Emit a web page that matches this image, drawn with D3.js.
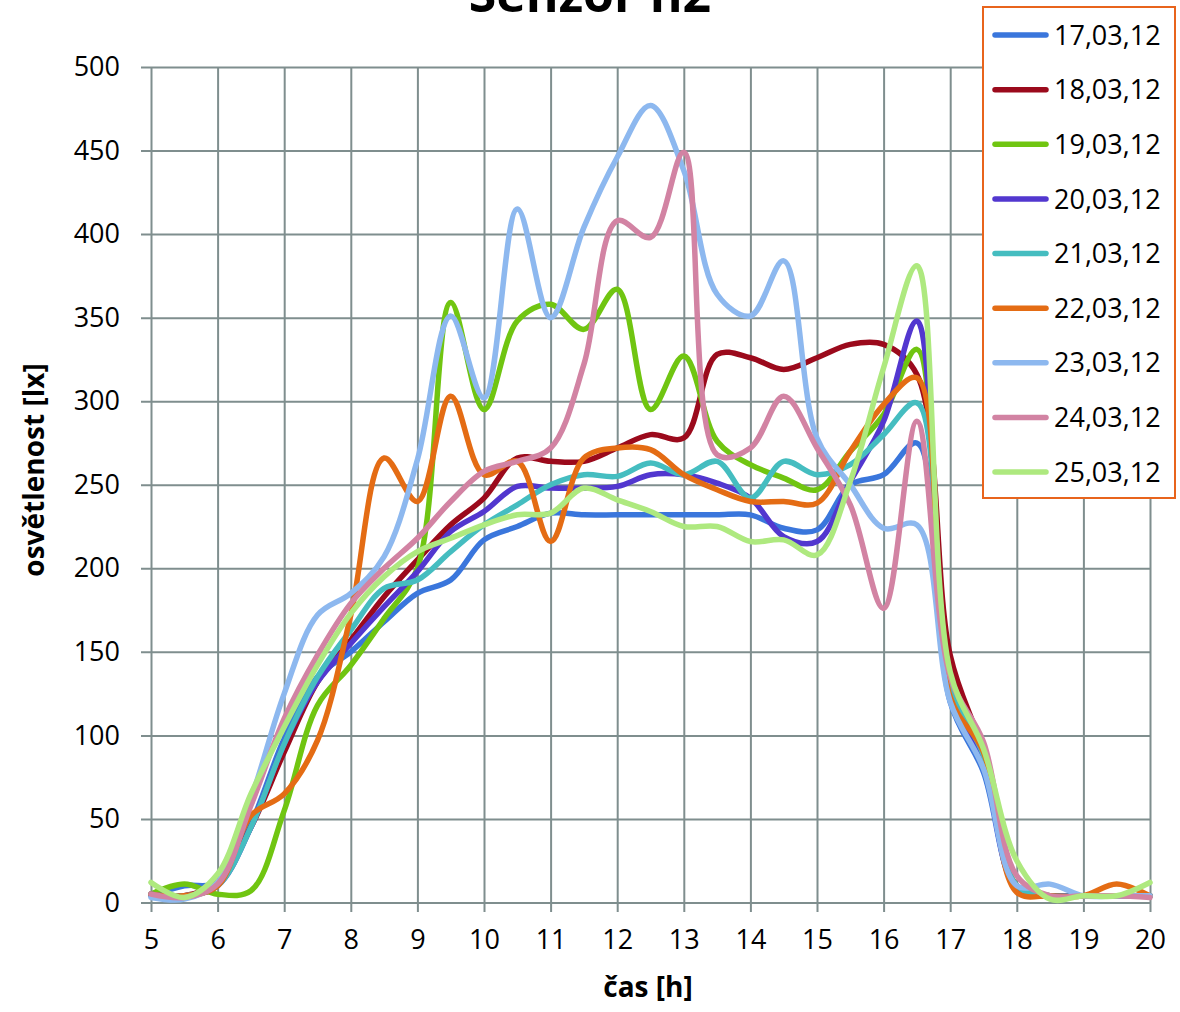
<!DOCTYPE html>
<html>
<head>
<meta charset="utf-8">
<script src="https://cdn.jsdelivr.net/npm/d3@7"></script>
<style>
  html, body { margin: 0; padding: 0; background: #ffffff; }
  svg { display: block; }
  text { font-family: "Open Sans", "DejaVu Sans", sans-serif; fill: #000; }
</style>
</head>
<body>
<svg id="chart" width="1180" height="1012"></svg>
<script>
// ---------- DATA ----------
const hours = [5,5.5,6,6.5,7,7.5,8,8.5,9,9.5,10,10.5,11,11.5,12,12.5,13,13.5,14,14.5,15,15.5,16,16.5,17,17.5,18,18.5,19,19.5,20];

const seriesNames = ["17,03,12","18,03,12","19,03,12","20,03,12","21,03,12","22,03,12","23,03,12","24,03,12","25,03,12"];
const seriesColors = ["#3a76dc","#9b0a1c","#70c511","#5237cf","#45bdc0","#e46c14","#8db8ef","#d283a3","#aee97f"];

const s17 = [4,10,12,47,98,135,150,168,185,193,217,225,233,232,232,232,232,232,232,224,223,250,256,275,120,78,8,4,4,4,4];
const s18 = [5,4,12,45,90,132,157,183,205,226,242,266,264,264,272,280,278,328,326,319,326,334,334,316,148,90,10,4,4,4,4];
const s19 = [5,11,5,7,55,118,142,170,200,359,295,348,358,343,367,295,327,276,262,254,247,270,292,331,130,85,10,4,4,4,4];
const s20 = [5,4,10,45,95,132,155,177,198,222,234,249,248,248,249,256,256,251,242,219,216,252,288,348,125,82,8,4,4,4,4];
const s21 = [5,4,10,45,95,135,163,188,193,210,226,238,250,256,255,263,256,264,242,264,256,262,280,299,130,88,10,4,4,4,4];
const s22 = [5,4,10,52,65,97,172,266,240,303,256,264,216,266,272,271,256,247,240,240,239,270,298,314,123,90,6,4,4,11,4];
const s23 = [3,2,12,62,125,172,185,207,265,351,302,415,350,404,446,477,438,364,351,384,278,250,224,226,120,80,10,11,4,4,4];
const s24 = [5,3,11,58,110,148,179,200,218,240,258,264,272,322,408,398,449,268,272,303,272,238,176,288,135,96,16,4,4,4,3];
const s25 = [12,3,17,65,105,142,173,195,210,218,226,232,233,248,241,234,225,225,216,217,208,252,320,381,138,92,25,2,4,4,12];

const seriesValues = [s17,s18,s19,s20,s21,s22,s23,s24,s25];

const xTicks = [5,6,7,8,9,10,11,12,13,14,15,16,17,18,19,20];
const yTicks = [0,50,100,150,200,250,300,350,400,450,500];

const titleText = "Senzor h2";
const xTitle = "čas [h]";
const yTitle = "osvětlenost [lx]";

// ---------- LAYOUT ----------
const svg = d3.select("#chart");
const plotL = 151, plotR = 1150, plotT = 67, plotB = 902.5;
const gridColor = "#7f8e8e";

const x = d3.scaleLinear().domain([5, 20]).range([plotL, plotR]);
const y = d3.scaleLinear().domain([0, 500]).range([plotB, plotT]);

// Y axis + horizontal gridlines
const yAxisX = 141;
const yAxis = d3.axisLeft(y).tickValues(yTicks).tickSize(-(plotR - yAxisX)).tickPadding(21).tickFormat(d3.format("d"));
const gy = svg.append("g").attr("transform", `translate(${yAxisX},0)`).call(yAxis);
gy.select(".domain").remove();
gy.selectAll(".tick line").attr("stroke", gridColor).attr("stroke-width", 2);
gy.selectAll(".tick text").attr("font-size", 27).attr("font-family", "'Open Sans', sans-serif").attr("fill", "#000");

// X axis + vertical gridlines
const xAxisY = 912;
const xAxis = d3.axisBottom(x).tickValues(xTicks).tickSize(-(xAxisY - plotT)).tickPadding(18).tickFormat(d3.format("d"));
const gx = svg.append("g").attr("transform", `translate(0,${xAxisY})`).call(xAxis);
gx.select(".domain").remove();
gx.selectAll(".tick line").attr("stroke", gridColor).attr("stroke-width", 2);
gx.selectAll(".tick text").attr("font-size", 27).attr("font-family", "'Open Sans', sans-serif").attr("fill", "#000");

// Lines
const line = d3.line()
  .x((d, i) => x(hours[i]))
  .y(d => y(d))
  .curve(d3.curveCatmullRom.alpha(0.5));

svg.append("g").selectAll("path")
  .data(seriesValues)
  .join("path")
  .attr("d", d => line(d))
  .attr("fill", "none")
  .attr("stroke", (d, i) => seriesColors[i])
  .attr("stroke-width", 5.5)
  .attr("stroke-linejoin", "round")
  .attr("stroke-linecap", "round");

// Title (partly above the top edge, as in the reference)
svg.append("text")
  .attr("x", 590).attr("y", 12)
  .attr("text-anchor", "middle")
  .attr("font-size", 50).attr("font-weight", "bold")
  .text(titleText);

// Axis titles
svg.append("text")
  .attr("x", 648).attr("y", 997)
  .attr("text-anchor", "middle")
  .attr("font-size", 28).attr("font-weight", "bold")
  .text(xTitle);

svg.append("text")
  .attr("transform", "translate(44,470) rotate(-90)")
  .attr("text-anchor", "middle")
  .attr("font-size", 28).attr("font-weight", "bold")
  .text(yTitle);

// Legend
const legend = svg.append("g");
legend.append("rect")
  .attr("x", 983).attr("y", 7).attr("width", 192).attr("height", 491)
  .attr("fill", "#ffffff").attr("stroke", "#e8641c").attr("stroke-width", 2);

const legendY = d3.scalePoint().domain(seriesNames).range([35, 472]);
const items = legend.selectAll("g.item").data(seriesNames).join("g").attr("class", "item")
  .attr("transform", d => `translate(0,${legendY(d)})`);
items.append("line")
  .attr("x1", 995).attr("x2", 1046).attr("y1", 0).attr("y2", 0)
  .attr("stroke", (d, i) => seriesColors[i]).attr("stroke-width", 5.5).attr("stroke-linecap", "round");
items.append("text")
  .attr("x", 1054).attr("y", 0).attr("dy", "0.36em")
  .attr("font-size", 27)
  .text(d => d);
</script>
</body>
</html>
